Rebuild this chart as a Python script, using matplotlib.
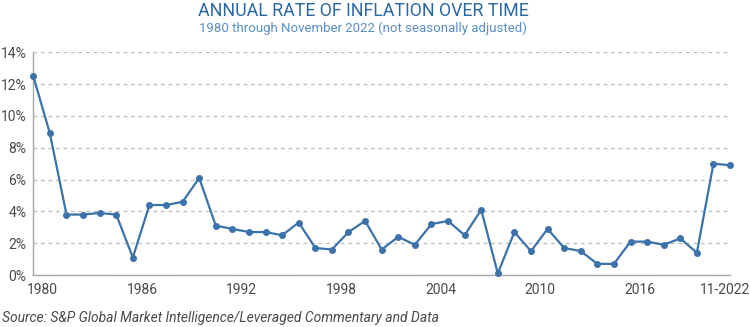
import matplotlib.pyplot as plt
import numpy as np

# Dec-to-Dec CPI change, 1980-2021, plus Nov 2022
years = list(range(1980, 2022)) + ["11-2022"]
inflation = [
    12.5, 8.9, 3.8, 3.8, 3.9, 3.8, 1.1, 4.4, 4.4, 4.6,
    6.1, 3.1, 2.9, 2.7, 2.7, 2.5, 3.3, 1.7, 1.6, 2.7,
    3.4, 1.6, 2.4, 1.9, 3.2, 3.4, 2.5, 4.1, 0.1, 2.7,
    1.5, 2.9, 1.7, 1.5, 0.7, 0.7, 2.1, 2.1, 1.9, 2.3,
    1.4, 7.0, 6.9,
]
tick_labels = ["1980", "1986", "1992", "1998", "2004", "2010", "2016", "11-2022"]
y_ticks = [0, 2, 4, 6, 8, 10, 12, 14]

line_color = "#3c72aa"
title_color = "#2b67a3"
sub_color = "#5b8ec4"
text_gray = "#4a4a4a"
font = "Roboto"

fig = plt.figure(figsize=(7.5, 3.27), dpi=100)
ax = fig.add_axes([0.0444, 0.159, 0.929, 0.681])

x = np.arange(len(inflation))
ax.plot(x, inflation, color=line_color, linewidth=1.6, marker="o",
        markersize=4, clip_on=False, zorder=3)

ax.set_xlim(0, len(inflation) - 1)
ax.set_ylim(0, 14)

# category-style labels sit between points
tick_pos = [years.index(int(t)) + 0.55 if t.isdigit() else len(years) - 1.3
            for t in tick_labels]
ax.set_xticks(tick_pos)
ax.set_xticklabels(tick_labels, fontsize=10, color=text_gray, family=font)
ax.set_yticks(y_ticks)
ax.set_yticklabels([f"{v}%" for v in y_ticks], fontsize=10, color=text_gray,
                   family=font)
ax.tick_params(length=0, pad=6)
ax.tick_params(axis="y", pad=5)

ax.grid(axis="y", linestyle=(0, (3, 3)), color="#bdbdbd", linewidth=0.9)
ax.set_axisbelow(True)
for side in ["top", "right"]:
    ax.spines[side].set_visible(False)
for side in ["left", "bottom"]:
    ax.spines[side].set_color("#a8a8a8")
    ax.spines[side].set_linewidth(1.0)

fig.text(0.484, 0.965, "ANNUAL RATE OF INFLATION OVER TIME", ha="center",
         va="center", fontsize=12.8, color=title_color, family=font)
fig.text(0.484, 0.915, "1980 through November 2022 (not seasonally adjusted)",
         ha="center", va="center", fontsize=9.5, color=sub_color, family=font)
fig.text(0.003, 0.028,
         "Source: S&P Global Market Intelligence/Leveraged Commentary and Data",
         ha="left", va="center", fontsize=10, color=text_gray, family=font,
         style="italic")

fig.savefig("out.png", dpi=100)
